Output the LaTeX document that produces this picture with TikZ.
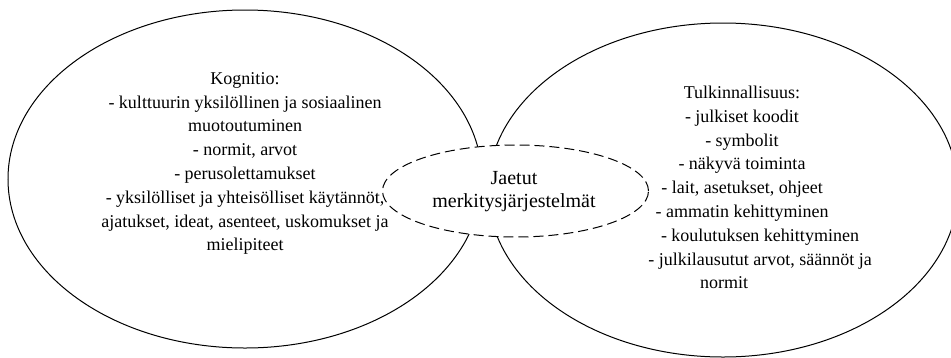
\documentclass[tikz,border=0pt]{standalone}
\usepackage{fontspec}
\setmainfont{Liberation Serif}
\usetikzlibrary{shapes.geometric}
\begin{document}
\begin{tikzpicture}[x=1pt,y=-1pt,
  bigoval/.style={draw=black,line width=1pt},
  sharedoval/.style={draw=black,fill=white,line width=1pt,dash pattern=on 10pt off 5pt},
  sidetext/.style={align=center,inner sep=0pt,font=\fontsize{18}{23.8}\selectfont},
  midtext/.style={align=center,inner sep=0pt,font=\fontsize{20}{23}\selectfont}]
  \useasboundingbox (0,0) rectangle (951,357);
  \clip (0,0) rectangle (951,357);
  \fill[white] (0,0) rectangle (951,357);
  % the two large ovals
  \draw[bigoval] (245,179) ellipse [x radius=237, y radius=169];
  \draw[bigoval] (723,190) ellipse [x radius=235, y radius=167];
  % dashed oval of shared meanings, laid over both
  \node[sharedoval,ellipse,minimum width=266pt,minimum height=92pt,inner sep=0pt] (shared) at (515.5,191) {};
  \node[midtext] (sharedtext) at (514,191.5) {Jaetut\\merkitysjärjestelmät};
  \node[sidetext] (cognition) at (245,163.5) {Kognitio:\\
    - kulttuurin yksilöllinen ja sosiaalinen\\
    muotoutuminen\\
    - normit, arvot\\
    - perusolettamukset\\
    - yksilölliset ja yhteisölliset käytännöt,\\
    ajatukset, ideat, asenteet, uskomukset ja\\
    mielipiteet};
  \node[sidetext] (interpretation) at (742,187.5) {Tulkinnallisuus:\\
    - julkiset koodit\\
    - symbolit\\
    - näkyvä toiminta\\
    - lait, asetukset, ohjeet\\
    - ammatin kehittyminen\\
    \hspace*{36pt}- koulutuksen kehittyminen\\
    \hspace*{36pt}- julkilausutut arvot, säännöt ja\\
    normit\hspace*{36pt}};
\end{tikzpicture}
\end{document}
